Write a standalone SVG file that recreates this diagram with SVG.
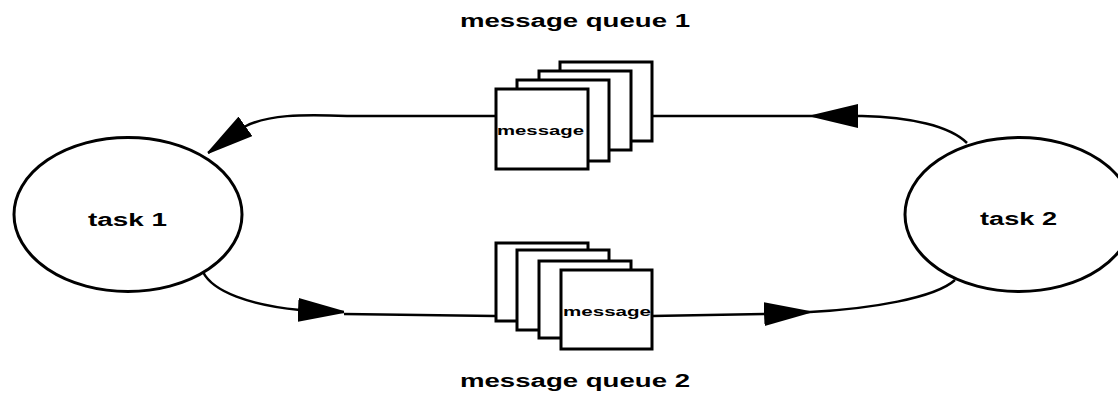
<svg xmlns="http://www.w3.org/2000/svg" width="1118" height="397" viewBox="0 0 1118 397">
<style>
.node{fill:#fff;stroke:#000;stroke-width:3}
.box{fill:#fff;stroke:#000;stroke-width:3}
.conn{fill:none;stroke:#000;stroke-width:2.5}
.lbl{font-family:"Liberation Sans",Arial,sans-serif;font-weight:bold;fill:#000}
</style>
<defs>
<marker id="arr" markerUnits="userSpaceOnUse" viewBox="0 0 46 24" markerWidth="46" markerHeight="24" refX="46" refY="12" orient="auto">
<path d="M0,0 L46,11 L46,13 L0,24 z" fill="#000"/>
</marker>
</defs>
<g id="connectors">
<path class="conn" d="M967 143 C950 126 910 117 862 116 L812 116" marker-end="url(#arr)"/>
<path class="conn" d="M812 116 L652 116"/>
<path class="conn" d="M495 116 L347 116 C300 114 268 115 246 126 L208 153" marker-end="url(#arr)"/>
<path class="conn" d="M203 272 C213 292 250 305 300 310 L344 312" marker-end="url(#arr)"/>
<path class="conn" d="M344 314 L495 316"/>
<path class="conn" d="M652 316 L765 314 L810 312" marker-end="url(#arr)"/>
<path class="conn" d="M810 312 C870 309 935 298 955 280"/>
</g>
<g id="task1">
<ellipse class="node" cx="128" cy="214.5" rx="114" ry="77"/>
<text class="lbl" x="88" y="226" font-size="18" textLength="79" lengthAdjust="spacingAndGlyphs">task 1</text>
</g>
<g id="task2">
<ellipse class="node" cx="1019" cy="214.5" rx="114" ry="77"/>
<text class="lbl" x="980" y="225" font-size="18" textLength="77" lengthAdjust="spacingAndGlyphs">task 2</text>
</g>
<g id="queue1">
<rect class="box" x="560" y="62" width="92" height="79"/>
<rect class="box" x="539" y="71" width="92" height="79"/>
<rect class="box" x="517" y="80" width="92" height="81"/>
<rect class="box" x="496" y="89" width="92" height="80"/>
<text class="lbl" x="497" y="135" font-size="13" textLength="87" lengthAdjust="spacingAndGlyphs">message</text>
<text class="lbl" x="460" y="27" font-size="18" textLength="230" lengthAdjust="spacingAndGlyphs">message queue 1</text>
</g>
<g id="queue2">
<rect class="box" x="496" y="243" width="92" height="78"/>
<rect class="box" x="517" y="250" width="92" height="80"/>
<rect class="box" x="539" y="261" width="92" height="77"/>
<rect class="box" x="561" y="270" width="91" height="79"/>
<text class="lbl" x="563" y="316" font-size="13" textLength="88" lengthAdjust="spacingAndGlyphs">message</text>
<text class="lbl" x="460" y="387" font-size="18" textLength="230" lengthAdjust="spacingAndGlyphs">message queue 2</text>
</g>
</svg>
